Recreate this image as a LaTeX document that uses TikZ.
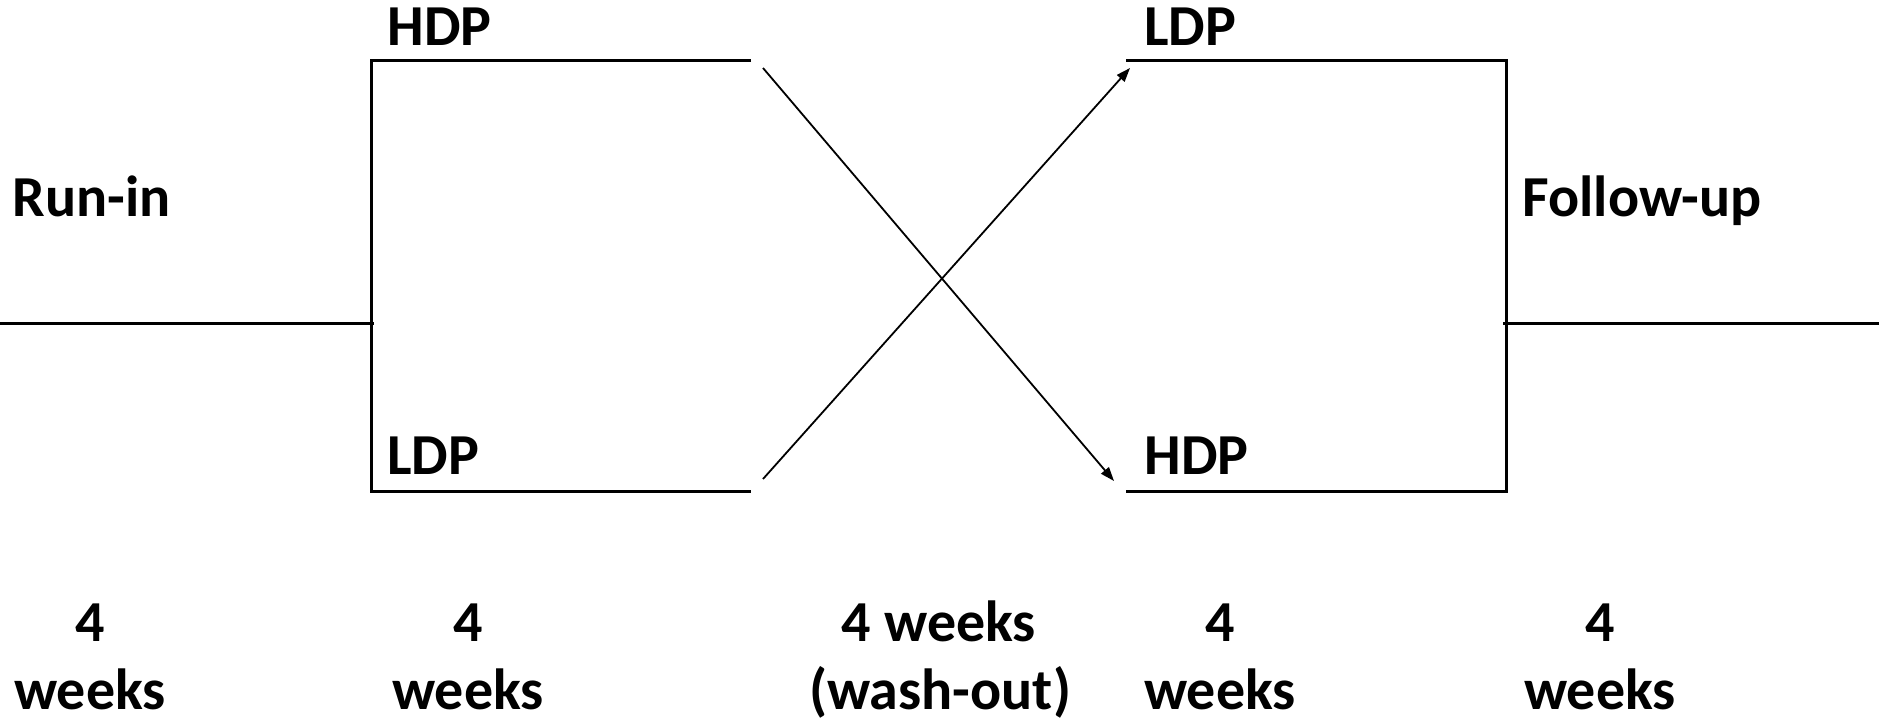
\documentclass[tikz,border=0pt]{standalone}
\usepackage{fontspec}
\setmainfont{Carlito}
\usetikzlibrary{arrows.meta}
\begin{document}
\begin{tikzpicture}[x=0.5pt,y=-0.5pt,
  lbl/.style={inner sep=0pt, font=\fontsize{29}{35}\selectfont\bfseries},
  arm/.style={line width=1.5pt},
  base/.style={line width=1.2pt},
  cross/.style={line width=0.9pt, -{Triangle[length=7pt,width=5pt]}}]
  \useasboundingbox (0,0) rectangle (1879,722);

  % bracket corners and line ends
  \coordinate (inL)   at (0,323.5);
  \coordinate (splitL) at (374,323.5);
  \coordinate (tlA) at (751,61);
  \coordinate (tlB) at (371.5,61);
  \coordinate (blB) at (371.5,491);
  \coordinate (blA) at (751,491);
  \coordinate (trA) at (1126,61);
  \coordinate (trB) at (1506,61);
  \coordinate (brB) at (1506,491);
  \coordinate (brA) at (1126,491);
  \coordinate (joinR) at (1503,323.5);
  \coordinate (outR)  at (1879,323.5);

  % crossing arrow ends
  \coordinate (hdpEnd)  at (763,68);
  \coordinate (ldpEnd)  at (763,479);
  \coordinate (ldpNext) at (1130,68);
  \coordinate (hdpNext) at (1114,481);

  % run-in and follow-up lines
  \draw[base] (inL) -- (splitL);
  \draw[base] (joinR) -- (outR);

  % period brackets
  \draw[arm] (tlA) -- (tlB) -- (blB) -- (blA);
  \draw[arm] (trA) -- (trB) -- (brB) -- (brA);

  % cross-over
  \draw[cross] (hdpEnd) -- (hdpNext);
  \draw[cross] (ldpEnd) -- (ldpNext);

  % phase labels
  \node[lbl, anchor=base west] (hdp1) at (387,45.5) {HDP};
  \node[lbl, anchor=base west] (ldp1) at (387,474.5) {LDP};
  \node[lbl, anchor=base west] (ldp2) at (1144,45.5) {LDP};
  \node[lbl, anchor=base west] (hdp2) at (1144,474.5) {HDP};
  \node[lbl, anchor=base west] (runin) at (12,216) {Run-in};
  \node[lbl, anchor=base west] (follow) at (1522,216) {Follow-up};

  % durations
  \node[lbl, anchor=base] (d1a) at (90,641) {4};
  \node[lbl, anchor=base] (d1b) at (90,709) {weeks};
  \node[lbl, anchor=base] (d2a) at (468,641) {4};
  \node[lbl, anchor=base] (d2b) at (468,709) {weeks};
  \node[lbl, anchor=base] (d3a) at (939,641) {4 weeks};
  \node[lbl, anchor=base] (d3b) at (940,709) {(wash-out)};
  \node[lbl, anchor=base] (d4a) at (1220,641) {4};
  \node[lbl, anchor=base] (d4b) at (1220,709) {weeks};
  \node[lbl, anchor=base] (d5a) at (1600,641) {4};
  \node[lbl, anchor=base] (d5b) at (1600,709) {weeks};
\end{tikzpicture}
\end{document}
